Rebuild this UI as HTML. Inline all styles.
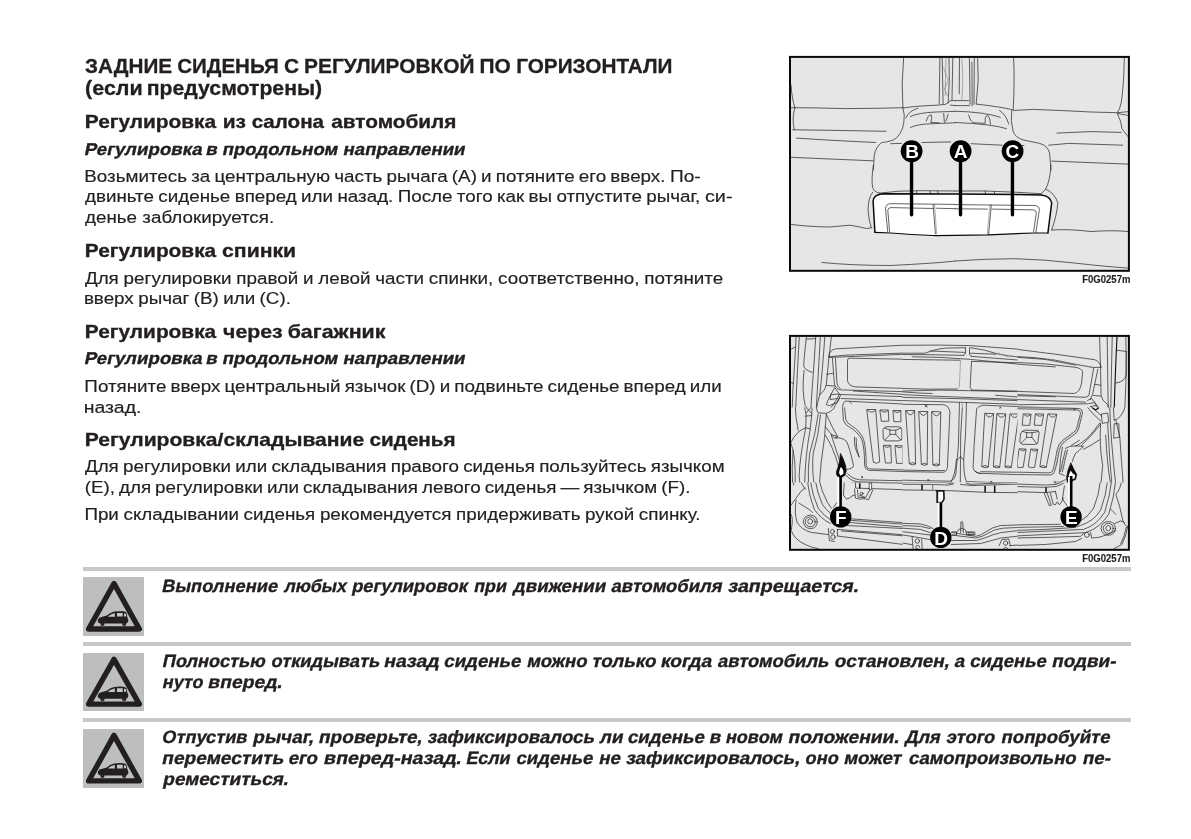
<!DOCTYPE html>
<html lang="ru">
<head>
<meta charset="utf-8">
<title>Задние сиденья с регулировкой по горизонтали</title>
<style>
html,body{margin:0;padding:0;background:#fff}
body{width:1191px;height:839px;overflow:hidden}
#page{position:relative;width:1191px;height:839px;overflow:hidden;background:#fff;font-family:"Liberation Sans",sans-serif;color:#231f20;will-change:transform}
.ln{position:absolute;left:0;margin:0;padding:0;height:0;line-height:0;white-space:pre;font-kerning:none}
.ln span{position:absolute;left:0;top:0;white-space:pre;transform-origin:0 0}
.h1{-webkit-text-stroke:0.3px #231f20}
.h2,.h3,.w{-webkit-text-stroke:0.35px #231f20}
.p{-webkit-text-stroke:0.18px #231f20}
.h1{font:bold 20px/0 "Liberation Sans",sans-serif}
.h2{font:bold 19px/0 "Liberation Sans",sans-serif}
.h3{font:bold 17px/0 "Liberation Sans",sans-serif}
.p{font:17.2px/0 "Liberation Sans",sans-serif}
.w{font:bold 17.8px/0 "Liberation Sans",sans-serif}
.cap{font:bold 10.2px/0 "Liberation Sans",sans-serif;-webkit-text-stroke:0.15px #231f20}
.rule{position:absolute;left:83px;width:1048px;height:3.8px;background:#c7c8ca}
.ib{position:absolute;left:83.1px;width:60.9px;height:58.8px;background:#bcbec0}
svg{position:absolute;left:0;top:0}
</style>
</head>
<body>
<div id="page">
<h1 class="ln h1" style="top:66px"><span style="transform:matrix(1.0351,0,0,1,85.01,0)">ЗАДНИЕ </span><span style="transform:matrix(1.0278,0,0,1,177.15,0)">СИДЕНЬЯ </span><span style="transform:matrix(1.0450,0,0,1,283.90,0)">С </span><span style="transform:matrix(1.0425,0,0,1,304.12,0)">РЕГУЛИРОВКОЙ </span><span style="transform:matrix(1.0450,0,0,1,479.60,0)">ПО </span><span style="transform:matrix(1.0381,0,0,1,516.14,0)">ГОРИЗОНТАЛИ</span></h1>
<h1 class="ln h1" style="top:88px"><span style="transform:matrix(1.0751,0,0,1,85.06,0)">(если </span><span style="transform:matrix(1.0607,0,0,1,146.80,0)">предусмотрены)</span></h1>
<h2 class="ln h2" style="top:122px"><span style="transform:matrix(1.0972,0,0,1,84.74,0)">Регулировка </span><span style="transform:matrix(1.1020,0,0,1,222.72,0)">из </span><span style="transform:matrix(1.0827,0,0,1,251.65,0)">салона </span><span style="transform:matrix(1.0945,0,0,1,331.24,0)">автомобиля</span></h2>
<h3 class="ln h3" style="top:150px"><span style="transform:matrix(1.0992,0,-0.2126,1,84.85,0)">Регулировка </span><span style="transform:matrix(1.0950,0,-0.2126,1,206.33,0)">в </span><span style="transform:matrix(1.0926,0,-0.2126,1,222.80,0)">продольном </span><span style="transform:matrix(1.0965,0,-0.2126,1,343.65,0)">направлении</span></h3>
<p class="ln p" style="top:176px"><span style="transform:matrix(1.0940,0,0,1,84.27,0);word-spacing:-0.93px">Возьмитесь за центральную часть рычага (A) и потяните его вверх. </span><span style="transform:matrix(1.1107,0,0,1,670.02,0)">По-</span></p>
<p class="ln p" style="top:196px"><span style="transform:matrix(1.0940,0,0,1,84.95,0);word-spacing:-0.80px">двиньте сиденье вперед или назад. После того как вы отпустите рычаг, </span><span style="transform:matrix(1.1516,0,0,1,704.96,0)">си-</span></p>
<p class="ln p" style="top:217px"><span style="transform:matrix(1.0940,0,0,1,84.95,0);word-spacing:0.07px">денье заблокируется.</span></p>
<h2 class="ln h2" style="top:251px"><span style="transform:matrix(1.0968,0,0,1,84.87,0)">Регулировка </span><span style="transform:matrix(1.1152,0,0,1,222.06,0)">спинки</span></h2>
<p class="ln p" style="top:278px"><span style="transform:matrix(1.0940,0,0,1,84.91,0);word-spacing:-0.37px">Для регулировки правой и левой части спинки, соответственно, потяните</span></p>
<p class="ln p" style="top:298px"><span style="transform:matrix(1.0940,0,0,1,83.88,0);word-spacing:-0.73px">вверх рычаг (B) или (C).</span></p>
<h2 class="ln h2" style="top:332px"><span style="transform:matrix(1.0968,0,0,1,84.87,0)">Регулировка </span><span style="transform:matrix(1.1185,0,0,1,223.07,0)">через </span><span style="transform:matrix(1.1233,0,0,1,287.69,0)">багажник</span></h2>
<h3 class="ln h3" style="top:359px"><span style="transform:matrix(1.0992,0,-0.2126,1,84.85,0)">Регулировка </span><span style="transform:matrix(1.0950,0,-0.2126,1,206.33,0)">в </span><span style="transform:matrix(1.0926,0,-0.2126,1,222.80,0)">продольном </span><span style="transform:matrix(1.0965,0,-0.2126,1,343.65,0)">направлении</span></h3>
<p class="ln p" style="top:386px"><span style="transform:matrix(1.0940,0,0,1,84.37,0);word-spacing:-1.06px">Потяните вверх центральный язычок (D) и подвиньте сиденье вперед или</span></p>
<p class="ln p" style="top:407px"><span style="transform:matrix(1.1288,0,0,1,83.69,0)">назад.</span></p>
<h2 class="ln h2" style="top:440px"><span style="transform:matrix(1.1090,0,0,1,84.80,0)">Регулировка/складывание </span><span style="transform:matrix(1.0871,0,0,1,369.59,0)">сиденья</span></h2>
<p class="ln p" style="top:466px"><span style="transform:matrix(1.0940,0,0,1,84.91,0);word-spacing:-0.89px">Для регулировки или складывания правого сиденья пользуйтесь язычком</span></p>
<p class="ln p" style="top:487px"><span style="transform:matrix(1.0940,0,0,1,84.65,0);word-spacing:-1.10px">(E), для регулировки или складывания левого сиденья — язычком (F).</span></p>
<p class="ln p" style="top:514px"><span style="transform:matrix(1.0940,0,0,1,84.38,0);word-spacing:-0.52px">При складывании сиденья рекомендуется придерживать рукой спинку.</span></p>
<p class="ln w" style="top:586px"><span style="transform:matrix(1.0273,0,-0.2126,1,162.58,0)">Выполнение </span><span style="transform:matrix(1.0028,0,-0.2126,1,284.68,0)">любых </span><span style="transform:matrix(1.0312,0,-0.2126,1,352.44,0)">регулировок </span><span style="transform:matrix(1.0028,0,-0.2126,1,474.51,0)">при </span><span style="transform:matrix(1.0495,0,-0.2126,1,514.12,0)">движении </span><span style="transform:matrix(1.0365,0,-0.2126,1,611.78,0)">автомобиля </span><span style="transform:matrix(1.1037,0,-0.2126,1,728.70,0)">запрещается.</span></p>
<p class="ln w" style="top:661px"><span style="transform:matrix(1.0227,0,-0.2126,1,163.10,0)">Полностью </span><span style="transform:matrix(1.0291,0,-0.2126,1,271.80,0)">откидывать </span><span style="transform:matrix(1.0937,0,-0.2126,1,384.54,0)">назад </span><span style="transform:matrix(1.0486,0,-0.2126,1,444.56,0)">сиденье </span><span style="transform:matrix(1.0449,0,-0.2126,1,527.47,0)">можно </span><span style="transform:matrix(1.0611,0,-0.2126,1,592.41,0)">только </span><span style="transform:matrix(1.0788,0,-0.2126,1,661.29,0)">когда </span><span style="transform:matrix(1.0351,0,-0.2126,1,718.32,0)">автомобиль </span><span style="transform:matrix(1.0646,0,-0.2126,1,835.14,0)">остановлен, </span><span style="transform:matrix(1.0500,0,-0.2126,1,955.05,0)">а </span><span style="transform:matrix(1.0397,0,-0.2126,1,970.60,0)">сиденье </span><span style="transform:matrix(1.0624,0,-0.2126,1,1052.56,0)">подви-</span></p>
<p class="ln w" style="top:682px"><span style="transform:matrix(1.0102,0,-0.2126,1,163.07,0)">нуто </span><span style="transform:matrix(1.0874,0,-0.2126,1,208.65,0)">вперед.</span></p>
<p class="ln w" style="top:737px"><span style="transform:matrix(1.0239,0,-0.2126,1,162.62,0)">Отпустив </span><span style="transform:matrix(1.0675,0,-0.2126,1,253.58,0)">рычаг, </span><span style="transform:matrix(1.0723,0,-0.2126,1,319.37,0)">проверьте, </span><span style="transform:matrix(1.0465,0,-0.2126,1,428.40,0)">зафиксировалось </span><span style="transform:matrix(1.0500,0,-0.2126,1,600.38,0)">ли </span><span style="transform:matrix(1.0453,0,-0.2126,1,628.16,0)">сиденье </span><span style="transform:matrix(1.0500,0,-0.2126,1,710.11,0)">в </span><span style="transform:matrix(1.0159,0,-0.2126,1,726.16,0)">новом </span><span style="transform:matrix(1.0841,0,-0.2126,1,788.82,0)">положении. </span><span style="transform:matrix(1.0283,0,-0.2126,1,905.70,0)">Для </span><span style="transform:matrix(1.0356,0,-0.2126,1,946.96,0)">этого </span><span style="transform:matrix(1.0453,0,-0.2126,1,1001.83,0)">попробуйте</span></p>
<p class="ln w" style="top:758px"><span style="transform:matrix(1.0766,0,-0.2126,1,162.64,0)">переместить </span><span style="transform:matrix(1.0500,0,-0.2126,1,288.94,0)">его </span><span style="transform:matrix(1.1031,0,-0.2126,1,324.35,0)">вперед-назад. </span><span style="transform:matrix(1.0028,0,-0.2126,1,466.66,0)">Если </span><span style="transform:matrix(1.0436,0,-0.2126,1,516.78,0)">сиденье </span><span style="transform:matrix(1.0500,0,-0.2126,1,599.45,0)">не </span><span style="transform:matrix(1.0588,0,-0.2126,1,626.77,0)">зафиксировалось, </span><span style="transform:matrix(1.0203,0,-0.2126,1,805.88,0)">оно </span><span style="transform:matrix(1.0608,0,-0.2126,1,844.55,0)">может </span><span style="transform:matrix(1.0422,0,-0.2126,1,909.19,0)">самопроизвольно </span><span style="transform:matrix(1.0500,0,-0.2126,1,1083.27,0)">пе-</span></p>
<p class="ln w" style="top:779px"><span style="transform:matrix(1.0687,0,-0.2126,1,163.59,0)">реместиться.</span></p>
<div class="ln cap" style="top:280px"><span style="transform:matrix(0.9356,0,0,1,1082.21,0)">F0G0257m</span></div>
<div class="ln cap" style="top:559px"><span style="transform:matrix(0.9356,0,0,1,1082.21,0)">F0G0257m</span></div>
<div class="rule" style="top:567.1px"></div>
<div class="rule" style="top:642.3px"></div>
<div class="rule" style="top:718.0px"></div>
<div class="ib" style="top:577.0px;height:58.8px"></div>
<div class="ib" style="top:653.0px;height:57.8px"></div>
<div class="ib" style="top:728.9px;height:58.9px"></div>
<svg width="1191" height="839" viewBox="0 0 1191 839" role="img" aria-label="Рычаг регулировки заднего сиденья из салона">
<rect x="790" y="56.9" width="338.9" height="213.9" fill="#e5e6e7" stroke="#0c0808" stroke-width="2"/>
<g fill="none" stroke="#231f20" stroke-width="0.7" stroke-linecap="round" stroke-linejoin="round">
<path d="M791.0,84.8 Q792.0,99.9 795.0,107.9 M791.0,107.7 L815.2,107.9 L845.5,108.6 L875.7,108.3 L902.9,107.7 M794.7,108.3 Q791.6,118.8 794.4,129.8 M792.6,129.8 L830.3,130.3 L886.0,131.3 M796.3,138.1 Q830.3,140.4 875.7,142.5 M903.6,58.3 Q901.1,83.2 902.9,107.9 M902.9,107.9 Q905.3,115.0 903.8,122.5 Q902.1,134.6 893.8,139.9 Q887.8,142.2 881.7,142.5 Q875.7,146.7 874.2,155.8 L873.4,170.0 M791.0,157.3 Q830.3,159.1 873.4,160.8 M890.8,143.7 L901.4,143.4 M921.9,142.5 L950.6,141.9 M903.6,107.9 Q913.5,106.2 936.1,105.2 L945.2,104.4 Q949.0,102.6 950.5,100.6 L955.0,100.6 M950.5,105.2 L955.0,105.5 M910.4,116.5 Q918.0,112.7 936.1,112.0 L955.0,111.4 M910.4,127.4 Q918.0,124.1 930.1,123.8 L955.0,122.8 M905.9,118.0 Q908.9,110.5 918.0,108.2 M926.3,121.0 Q928.6,113.5 931.3,115.0 Q932.4,118.0 930.8,122.5 L939.2,122.8 M943.7,113.5 L944.4,122.5 M948.2,114.2 L946.0,121.0 M939.9,58.3 L939.2,103.7 M942.2,58.3 L943.1,103.7 M949.0,58.3 Q950.0,80.2 948.2,102.9 M952.8,58.3 L952.0,99.9 M959.5,58.3 L959.2,93.8 M969.4,58.3 L970.1,104.4 M971.9,62.1 L972.2,105.9 M974.3,58.3 L974.0,104.4 M977.7,58.3 Q979.5,80.2 976.2,103.7 M955.0,100.6 L968.6,100.6 M955.0,105.6 L969.4,105.6 M976.2,104.1 Q1000.3,106.7 1012.4,109.7 M1013.6,58.3 Q1014.8,80.2 1013.2,109.7 M1013.2,110.5 L1033.6,109.4 L1060.8,110.5 L1091.0,112.0 L1117.5,112.7 L1127.7,111.7 M1124.3,58.3 Q1123.7,87.8 1121.2,102.9 Q1119.7,109.7 1117.5,112.3 M1117.5,113.5 L1127.7,115.3 M1117.5,113.8 Q1121.2,121.0 1122.0,128.6 L1127.7,136.4 M1011.7,110.5 Q1010.2,121.0 1013.2,131.6 Q1015.5,137.7 1023.0,139.9 L1039.6,143.4 Q1047.2,145.2 1049.5,152.8 L1051.0,170.0 M1057.0,133.1 L1091.0,131.6 L1121.2,132.4 M1048.7,145.2 L1068.4,143.4 L1122.8,145.2 M1051.7,161.1 L1127.7,164.1 M955.0,111.2 Q985.2,112.0 1000.3,117.3 M955.0,122.5 Q992.8,124.1 1006.4,128.6 M999.6,110.5 Q1006.4,115.0 1008.7,124.1 M985.2,122.5 Q984.5,116.5 987.5,115.0 Q990.5,118.0 990.5,124.1 M968.6,115.0 Q970.1,121.0 973.1,122.8 L985.2,123.3 M970.9,143.7 L1002.2,145.2 M1022.4,145.5 L1023.9,145.5 M873.4,165.0 Q871.1,180.1 872.7,187.7 Q874.2,192.2 879.5,193.1 M879.5,193.1 Q898.4,190.4 921.0,190.7 L955.0,191.0 M881.7,195.5 L955.0,195.8 M916.5,191.0 L916.8,193.4 M930.1,191.0 L930.4,193.4 M937.6,191.0 L937.9,193.4 M872.7,192.2 Q868.1,197.5 868.1,210.3 Q868.9,220.9 871.1,227.3 M791.0,224.4 Q807.7,226.7 830.3,227.0 Q845.5,225.5 850.0,225.2 Q860.6,227.0 866.6,228.5 L871.9,227.7 M822.0,262.5 Q853.0,265.5 890.8,265.5 Q936.1,263.2 955.0,261.1 M955.0,191.0 L985.2,191.0 L1015.5,192.2 L1041.1,193.7 M955.0,195.8 L1015.5,196.3 L1039.6,197.0 M985.2,191.1 L985.5,193.7 M994.3,191.4 L994.6,193.9 M1051.0,165.0 Q1050.2,180.1 1045.7,189.2 L1041.1,193.7 M1045.7,189.2 Q1054.7,193.0 1057.8,202.8 Q1057.0,214.9 1051.7,230.0 M1051.7,230.0 Q1068.4,228.8 1091.0,231.5 Q1113.7,230.0 1127.7,231.5 M955.0,261.0 Q985.2,258.7 1015.5,258.7 Q1045.7,259.5 1075.9,263.2 Q1106.1,266.6 1127.7,268.1"/>
<path stroke="#8a8a8a" d="M946.0,58.3 L945.2,95.3 M943.7,68.1 L948.2,80.2 L944.4,89.3 L949.0,98.4 M961.8,58.3 Q963.8,80.2 961.8,99.9"/>
<path fill="#fff" stroke="none" d="M874.9,232.3 L873.1,201.3 Q873.4,194.5 883.2,193.7 L955.0,194.0 L955.0,194.0 L1015.5,194.6 L1041.1,194.9 Q1050.5,196.0 1051.7,202.8 L1047.9,233.0 L1047.9,233.0 L1033.6,233.0 L988.2,234.8 L955.0,235.3 L955.0,235.3 L936.1,235.6 Q921.0,235.3 890.8,233.0 L874.9,232.3 Z"/>
<path stroke="#8a8a8a" d="M934.6,204.6 L936.6,233.8 M989.8,205.1 L987.3,234.5"/>
<path d="M887.8,232.3 L885.5,208.8 Q885.5,204.0 890.8,203.7 L955.0,204.4 M955.0,204.6 L1035.1,205.5 Q1039.6,206.1 1039.3,210.3 L1035.9,232.3 M889.6,231.5 L887.8,210.3 Q887.8,207.8 890.8,207.6 L933.1,208.5 M936.1,208.2 L955.0,208.7 M955.0,208.8 L987.5,209.1 M992.0,209.1 L1033.6,209.9 Q1036.6,210.3 1036.3,213.4 L1033.6,231.5 M933.1,204.6 L935.4,233.8 M991.3,205.1 L988.6,234.5"/>
<path stroke="#0c0808" stroke-width="1.5" d="M874.9,232.3 L873.1,201.3 Q873.4,194.5 883.2,193.7 L955.0,194.0 L955.0,194.0 L1015.5,194.6 L1041.1,194.9 Q1050.5,196.0 1051.7,202.8 L1047.9,233.0"/>
<path stroke="#0c0808" stroke-width="1.2" d="M1047.9,233.0 L1033.6,233.0 L988.2,234.8 L955.0,235.3 L955.0,235.3 L936.1,235.6 Q921.0,235.3 890.8,233.0 L874.9,232.3"/>
</g>
<g stroke="#000" stroke-width="3.4" stroke-linecap="round"><path d="M911.55,155V214.8M960.5,155V214.8M1012.45,155V214.8"/></g>
<g fill="#000"><circle cx="911.6" cy="151.2" r="10.9"/><circle cx="960.6" cy="151.2" r="10.9"/><circle cx="1012.6" cy="151.2" r="10.9"/></g>
<g fill="#fff" font-family="Liberation Sans, sans-serif" font-weight="bold" font-size="19" text-anchor="middle"><text x="912" y="158">B</text><text x="960.6" y="157.9">A</text><text x="1012.3" y="158">C</text></g>
</svg>
<svg width="1191" height="839" viewBox="0 0 1191 839" role="img" aria-label="Язычки регулировки сидений со стороны багажника">
<defs><clipPath id="t11"><rect x="789" y="334" width="113.5" height="73.5"/></clipPath><clipPath id="t12"><rect x="902.5" y="334" width="115.0" height="73.5"/></clipPath><clipPath id="t13"><rect x="1017.5" y="334" width="113.5" height="73.5"/></clipPath><clipPath id="t21"><rect x="789" y="407.5" width="113.5" height="75.0"/></clipPath><clipPath id="t22"><rect x="902.5" y="407.5" width="115.0" height="75.0"/></clipPath><clipPath id="t23"><rect x="1017.5" y="407.5" width="113.5" height="75.0"/></clipPath><clipPath id="t31"><rect x="789" y="482.5" width="113.5" height="69.5"/></clipPath><clipPath id="t32"><rect x="902.5" y="482.5" width="115.0" height="69.5"/></clipPath><clipPath id="t33"><rect x="1017.5" y="482.5" width="113.5" height="69.5"/></clipPath></defs>
<rect x="790" y="335.9" width="338.9" height="213.9" fill="#e5e6e7"/>
<g fill="none" stroke="#231f20" stroke-width="0.7" stroke-linecap="round" stroke-linejoin="round">
<g clip-path="url(#t11)">
<path d="M796.1,337.1 Q794.9,360.2 792.9,390.5 L792.1,410.0 M799.3,337.1 Q797.9,360.2 795.6,410.0 M791.0,349.1 L795.1,347.1 M791.0,382.4 L793.3,383.4 M806.4,337.1 Q804.3,355.2 803.7,365.3 Q803.9,369.8 812.2,372.3 M806.7,339.1 L815.2,338.6 M815.7,337.1 Q814.4,360.2 812.0,390.5 L810.8,410.0 M820.3,337.1 Q818.5,370.3 816.2,410.0 M824.8,337.1 Q822.5,370.3 819.8,394.5 M831.3,337.1 Q828.5,360.2 826.3,384.4 Q825.3,390.5 819.8,394.5 Q817.4,402.5 816.4,410.0 M804.1,370.3 Q801.6,390.5 805.2,405.6 L809.2,410.0 M828.8,356.0 Q829.3,350.2 835.4,348.9 L905.0,345.1 M828.8,356.8 L845.5,355.2 L905.0,353.0 M828.8,357.4 L855.5,356.4 L905.0,354.2 M905.0,359.2 L849.5,358.2 Q847.3,358.4 847.5,361.2 L847.5,380.4 Q848.0,385.9 855.5,386.9 L905.0,388.4 M832.4,358.2 L834.4,383.4 Q835.4,389.4 841.4,389.9 L905.0,391.7 M835.4,358.2 L836.9,382.4 Q837.4,386.9 840.2,388.6 M826.8,374.3 L832.9,373.3 M826.3,385.4 L834.4,386.0 M840.4,394.5 L905.0,396.7 M853.5,391.0 L905.0,394.5 M841.4,398.5 L905.0,400.7 M842.9,410.0 Q841.9,402.5 845.5,401.1 L905.0,404.1 M834.4,387.9 L828.3,399.5 L826.3,404.6 L829.3,405.6 L837.4,402.5 L840.4,395.5 L837.4,391.5 Z M831.3,394.5 L839.4,394.0 L837.4,398.5 L830.3,399.5 Z M829.3,410.0 L837.4,398.5 M832.4,410.0 L839.9,397.5 M849.5,401.7 L851.5,403.6"/>
</g>
<g clip-path="url(#t12)">
<path d="M900.0,345.3 L940.3,345.1 L970.5,345.6 L990.7,347.1 L1020.0,349.3 M900.0,353.2 L925.2,353.2 Q933.2,349.6 945.3,348.1 L965.5,347.7 M970.5,347.7 Q985.6,349.6 995.7,353.4 Q1005.8,356.0 1020.0,357.2 M965.5,347.9 L965.5,353.0 Q965.3,354.7 963.5,355.2 M969.5,347.9 L969.5,354.2 Q969.7,355.7 971.7,356.4 M900.0,354.5 L930.2,354.7 L963.5,355.4 M930.2,351.0 L964.5,352.4 M970.5,353.2 L995.7,354.2 M912.1,356.8 L940.3,357.4 L970.5,359.4 L1020.0,364.3 M971.7,356.4 L1020.0,360.2 M900.0,359.4 L959.6,360.2 M971.7,361.4 L1020.0,362.8 M971.5,361.4 L970.1,387.4 L971.7,390.1 M900.0,388.4 L930.2,389.2 L957.0,389.0 M971.7,390.1 L1020.0,391.1 M900.0,391.1 L940.3,390.1 L970.5,390.7 L1020.0,391.7 M900.0,391.7 L920.2,393.1 L932.2,393.5 M900.0,394.5 L930.2,396.0 L1020.0,399.5 M995.7,395.3 L1020.0,397.1 M900.0,397.3 L960.5,398.7 L1020.0,400.7 M900.0,400.5 L960.5,402.3 L1020.0,404.4 M900.0,404.3 L943.3,404.7 Q948.9,406.1 949.9,410.0 M976.6,410.0 Q977.8,405.8 982.6,405.2 L1020.0,406.6 M959.4,402.5 L959.4,410.0 M966.5,402.5 L966.1,410.0 M924.7,405.1 L927.2,406.8 M927.2,405.1 L925.2,406.8 M999.7,407.1 L1000.8,408.1 M1000.8,407.1 L999.7,408.1"/>
<path stroke="#8a8a8a" d="M928.2,352.4 L930.2,350.7 M930.7,352.0 L932.7,350.2 M933.2,351.2 L935.3,349.6 M936.3,350.5 L938.1,349.1 M996.7,354.2 L999.2,353.0 M999.7,355.2 L1002.3,354.0 M1002.8,356.0 L1005.3,354.8 M1006.3,356.7 L1008.8,355.5 M1009.8,357.2 L1012.0,356.0 M960.5,360.4 L959.4,386.4 L957.0,389.0 M962.1,402.5 L962.5,410.0"/>
</g>
<g clip-path="url(#t13)">
<path d="M1015.0,349.1 L1055.3,354.2 L1094.6,359.7 Q1099.6,361.2 1101.2,366.9 M1015.0,356.4 L1035.2,357.7 L1055.3,360.2 L1075.5,364.3 L1093.6,367.5 L1101.2,367.3 M1015.0,357.2 L1045.2,359.4 L1075.5,365.1 M1015.0,362.4 L1045.2,363.9 L1075.5,367.3 Q1082.0,368.3 1082.7,372.3 L1081.5,383.4 Q1080.0,392.0 1074.4,393.5 L1015.0,391.3 M1015.0,364.0 L1055.3,366.9 M1093.6,368.3 L1089.1,394.5 Q1088.4,397.0 1085.5,397.3 L1015.0,394.5 M1097.8,369.3 L1092.6,394.5 L1090.1,399.5 M1015.0,395.7 L1055.3,396.7 M1015.0,399.5 L1085.5,402.1 M1015.0,404.8 L1087.5,403.8 M1015.0,406.8 L1075.5,408.2 M1099.6,337.1 L1100.6,370.3 L1101.1,395.5 Q1101.6,400.5 1107.7,404.6 L1109.2,410.0 M1107.2,337.1 L1108.2,410.0 M1112.2,337.1 L1110.7,410.0 M1125.8,337.1 L1126.4,370.3 L1124.8,410.0 M1116.8,350.2 L1125.8,351.4 M1126.4,351.4 L1125.8,375.3 Q1125.3,381.4 1116.3,383.0 M1095.1,384.4 L1100.6,385.2 M1093.6,395.5 L1100.6,396.1 M1087.5,400.5 L1091.6,398.5 L1100.6,410.0 M1088.6,403.6 L1094.6,402.5 L1098.6,410.0 M1090.1,406.6 L1095.6,405.6"/>
<path stroke="#8a8a8a" d="M1045.2,358.4 L1047.7,359.8 M1049.3,359.0 L1051.8,360.4 M1053.3,359.7 L1055.8,361.1 M1057.3,360.4 L1059.8,361.8 M1061.3,361.2 L1063.9,362.6 M1065.4,362.0 L1067.9,363.5 M1069.9,362.8 L1072.4,364.3 M1074.4,363.8 L1077.0,365.2 M1079.0,364.6 L1081.5,366.0 M1083.5,365.4 L1086.0,366.8 M1088.0,366.1 L1090.6,367.5"/>
<path stroke="#0c0808" stroke-width="1.1" d="M1117.0,337.1 Q1115.3,370.3 1114.2,410.0"/>
</g>
<g clip-path="url(#t21)">
<path d="M795.1,405.0 Q795.6,417.1 798.1,430.2 M791.0,442.3 Q796.1,431.2 805.7,427.8 M804.1,405.0 L806.2,415.1 L805.7,427.8 L810.2,428.8 L811.7,415.1 L812.2,405.0 M805.2,416.1 L811.7,415.6 M805.7,407.0 L811.2,413.1 M811.2,407.0 L806.2,413.1 M816.2,405.0 Q816.4,411.0 818.2,412.9 L826.3,413.3 Q833.4,411.0 836.4,405.0 M805.7,428.2 Q800.1,455.4 799.1,475.5 L800.1,485.0 M810.2,429.2 Q805.2,455.4 804.6,485.0 M818.2,414.1 Q815.2,435.2 809.7,453.4 Q807.7,467.5 808.4,485.0 M820.5,414.9 Q818.8,435.2 813.2,453.4 Q811.7,467.5 814.2,485.0 M826.3,414.1 Q825.3,437.2 821.3,461.4 L819.3,485.0 M793.1,450.3 Q791.5,467.5 792.6,485.0 M791.0,443.3 Q796.1,455.4 795.1,485.0 M826.3,414.1 L832.4,427.2 L837.4,436.2 M825.3,426.7 L831.3,434.2 M825.3,435.2 Q832.4,445.3 838.4,465.5 M831.3,435.2 L839.9,461.4 M831.3,434.8 L834.4,437.8 L837.6,436.8 Z M835.4,438.2 Q841.4,436.7 846.5,441.3 Q849.5,447.3 853.5,465.5 Q853.5,469.0 845.5,469.5 M842.4,405.0 L843.4,420.1 Q844.4,424.6 849.5,427.2 Q858.6,432.2 862.1,440.3 Q864.6,448.3 864.6,465.5 Q865.1,469.5 868.6,470.3 L905.0,471.6 M844.4,405.0 L845.7,419.1 Q846.5,423.1 851.5,425.7 Q860.1,430.7 863.6,439.3 Q866.1,448.3 866.2,465.5 Q866.4,468.3 869.6,468.9 L905.0,470.0 M854.5,437.2 Q853.5,447.3 859.1,456.9 M856.1,438.2 Q855.5,447.3 859.1,456.9 M867.1,409.5 L875.7,409.5 L879.7,461.9 Q876.7,464.4 873.7,462.4 Z M867.4,410.0 Q871.6,414.6 875.5,410.0 M880.2,410.0 L888.3,410.0 L888.8,421.1 L881.7,421.3 Z M880.7,410.5 Q884.2,414.1 888.0,410.5 M893.3,410.5 L900.9,410.5 L900.9,421.7 L894.3,421.7 Z M893.8,411.0 Q897.0,414.3 900.5,411.0 M883.2,429.2 L885.8,426.8 L899.9,426.8 L901.9,429.2 L901.9,439.3 L898.9,440.9 L885.8,440.9 L883.7,439.3 Z M890.3,430.2 L895.8,430.2 L895.8,434.4 L890.3,434.4 Z M884.2,428.0 L890.3,430.2 M900.9,428.0 L895.8,430.2 M884.7,440.1 L890.3,434.4 M900.9,440.1 L895.8,434.4 M883.7,445.3 L890.8,445.3 L891.4,463.0 L885.8,463.0 Z M884.2,445.8 Q887.3,449.3 890.4,445.8 M895.3,445.5 L902.9,445.9 L902.9,463.4 L897.0,463.4 Z M895.8,446.1 Q899.1,449.3 902.5,446.3 M845.5,474.5 Q849.5,480.6 857.5,481.8 L905.0,483.2 M847.5,473.5 Q851.5,478.6 859.6,479.8 L905.0,480.8 M861.4,476.7 L862.8,477.7 M862.8,476.7 L861.4,477.7 M839.9,470.5 Q841.6,469.5 842.6,471.7 Q842.0,473.9 840.2,473.5 Z"/>
<path fill="#0c0808" stroke="#0c0808" stroke-width="0.8" d="M840.6,453.8 L843.0,458.4 L845.5,465.5 L846.2,471.0 L844.6,475.5 L841.9,477.1 L839.4,477.1 L837.0,475.7 L836.4,472.0 L837.8,468.0 L839.6,461.4 Z"/>
<path fill="#fff" stroke="none" d="M841.0,466.7 L843.2,470.0 L843.4,473.3 L842.0,475.1 L840.2,475.5 L839.0,472.7 L839.9,469.0 Z"/>
<path stroke="#0c0808" stroke-width="1.1" d="M859.8,483.2 L860.0,485.0 M870.2,483.2 L870.2,485.0"/>
</g>
<g clip-path="url(#t22)">
<path d="M906.0,410.5 L914.6,410.5 L915.6,463.9 Q912.6,466.0 909.6,463.9 Z M906.4,411.0 Q910.3,419.1 914.3,411.0 M909.6,463.6 Q912.6,461.4 915.6,463.6 M919.1,411.5 L927.7,411.5 L927.2,464.4 Q924.4,466.5 921.7,464.4 Z M919.5,412.1 Q923.4,419.1 927.4,412.1 M921.7,464.2 Q924.4,462.0 927.2,464.2 M932.0,411.5 L940.8,411.9 L939.3,465.1 Q936.3,466.9 933.2,465.1 Z M932.4,412.3 Q936.3,419.6 940.5,412.5 M933.2,464.8 Q936.3,462.6 939.3,464.8 M943.3,405.0 Q949.4,406.0 949.9,412.1 L948.4,445.3 L947.4,467.5 Q946.5,472.0 943.3,472.3 L900.0,471.5 M900.0,470.0 L930.2,470.7 L944.3,470.5 M900.0,480.1 L950.4,481.2 Q954.9,479.6 955.9,473.5 L958.4,445.3 L959.4,405.0 M900.0,482.8 L952.4,483.4 M962.5,405.0 L960.7,435.2 L960.5,455.4 L960.3,485.0 M966.5,405.0 L965.5,435.2 L963.7,459.4 Q963.5,475.5 966.5,481.6 L1020.0,483.4 M957.4,459.9 L960.5,456.4 L963.5,459.9 M956.4,459.4 Q955.4,475.5 950.4,483.1 M1020.0,406.2 L980.6,405.5 Q977.1,405.8 976.6,409.0 L974.1,445.3 L973.1,467.5 Q973.6,472.0 979.6,473.3 L1020.0,474.7 M974.6,471.0 Q976.6,473.0 980.6,473.7 M985.1,413.3 L993.7,413.6 L988.2,467.1 Q985.1,468.5 982.1,466.7 Z M985.6,413.9 Q989.2,420.6 993.3,414.1 M982.1,466.5 Q985.1,463.9 988.2,466.7 M997.2,413.6 L1005.8,413.9 L999.7,467.3 Q996.7,468.5 993.7,466.9 Z M997.7,414.3 Q1001.3,420.6 1005.4,414.5 M993.7,466.7 Q996.7,464.2 999.7,467.0 M1010.3,413.9 L1018.9,414.1 L1011.3,467.3 Q1008.3,468.5 1005.3,467.0 Z M1010.8,414.5 Q1014.4,420.9 1018.5,414.7 M1005.3,466.7 Q1008.3,464.2 1011.3,467.0 M1020.0,448.3 L1017.4,467.0 L1020.0,467.5 M925.4,405.5 L927.2,406.8 M927.2,405.5 L925.4,406.8 M999.7,407.0 L1001.0,408.2 M1001.0,407.0 L999.7,408.2 M927.7,479.6 L929.0,480.6 M929.0,479.6 L927.7,480.6 M990.7,481.1 L991.9,482.3 M991.9,481.1 L990.7,482.3 M980.6,471.7 L1020.0,472.3"/>
</g>
<g clip-path="url(#t23)">
<path d="M1023.6,413.9 L1031.1,414.1 L1029.6,425.4 L1022.6,425.2 Z M1024.1,414.5 Q1027.3,418.1 1030.7,414.7 M1035.7,413.9 L1043.7,414.1 L1041.7,425.4 L1034.6,425.2 Z M1036.2,414.5 Q1039.7,418.1 1043.2,414.7 M1048.2,413.9 L1056.8,414.3 L1046.2,467.3 Q1043.2,468.5 1040.2,466.7 Z M1048.8,414.5 Q1052.5,420.1 1056.3,414.9 M1040.2,466.5 Q1043.2,464.2 1046.2,466.9 M1021.0,432.7 L1024.1,430.2 L1037.7,430.4 L1039.2,432.7 L1037.7,443.3 L1034.6,444.5 L1022.1,444.3 L1020.0,442.3 Z M1027.1,432.7 L1032.1,432.7 L1031.9,437.4 L1026.9,437.4 Z M1022.3,431.4 L1027.1,432.7 M1038.4,431.6 L1032.1,432.7 M1021.0,443.3 L1026.9,437.4 M1036.7,443.8 L1031.9,437.4 M1019.5,448.8 L1026.1,449.1 L1023.1,467.3 Q1020.0,468.3 1017.0,466.9 Z M1020.0,449.3 Q1022.9,452.6 1025.7,449.5 M1031.1,449.1 L1037.7,449.3 L1034.6,467.3 Q1031.6,468.3 1028.6,466.9 Z M1031.6,449.6 Q1034.4,452.9 1037.3,449.8 M1015.0,407.2 L1079.5,408.6 Q1083.0,409.5 1082.5,413.1 L1078.5,429.2 Q1077.0,432.7 1074.4,434.4 L1064.4,441.8 Q1060.3,445.3 1059.3,450.3 L1056.3,465.5 L1054.5,471.5 Q1053.8,474.7 1050.3,475.0 L1015.0,474.5 M1015.0,408.7 L1078.0,410.0 Q1080.7,410.5 1080.5,413.6 L1076.7,428.4 Q1075.5,431.4 1072.6,433.2 L1062.6,440.5 Q1058.3,444.3 1057.3,449.3 L1054.3,464.9 L1052.9,470.0 Q1052.3,472.7 1049.3,472.9 L1015.0,472.1 M1073.9,409.0 L1075.2,410.0 M1075.2,409.0 L1073.9,410.0 M1062.4,447.3 Q1060.3,457.4 1059.3,473.5 L1064.4,475.5 M1065.4,448.3 Q1069.4,445.8 1075.5,445.8 L1083.5,446.3 Q1079.5,450.3 1075.5,453.4 Q1073.4,457.4 1072.4,461.4 M1065.4,450.3 Q1062.4,461.4 1060.5,471.5 M1067.4,449.8 Q1064.4,461.4 1062.4,472.0 M1071.4,445.3 L1079.5,440.3 M1075.5,446.3 Q1085.5,441.3 1093.6,431.2 L1099.6,423.1 M1081.5,445.3 Q1091.6,436.2 1100.6,424.3 M1083.5,449.3 Q1091.6,445.3 1099.6,439.8 M1070.2,474.5 Q1071.9,473.7 1073.2,475.5 Q1072.4,477.7 1070.6,477.3 Z M1054.3,482.2 Q1060.3,483.6 1065.4,479.8 M1054.1,481.8 L1055.3,482.8 M1055.3,481.8 L1054.1,482.8 M1085.5,405.0 Q1091.6,413.1 1100.6,421.1 M1089.6,405.0 Q1095.6,411.0 1101.9,416.1 M1101.6,414.1 L1107.7,413.1 L1108.7,422.1 L1102.7,423.3 Z M1100.6,423.3 Q1099.1,445.3 1102.7,465.5 L1100.8,485.0 M1107.7,423.1 Q1109.2,455.4 1111.9,485.0 M1109.7,405.0 Q1110.2,435.2 1115.8,485.0 M1113.2,405.0 L1114.2,420.1 M1114.2,420.1 Q1121.8,419.1 1125.8,405.0 M1114.2,424.1 L1113.7,438.2 L1119.3,437.2 L1118.8,424.1 Z M1119.8,437.2 Q1121.8,465.5 1123.3,485.0 M1105.7,435.2 Q1107.2,465.5 1110.7,485.0 M1115.8,420.1 L1119.8,437.2"/>
<path stroke="#8a8a8a" d="M1079.5,416.1 L1081.7,417.1 M1078.7,419.1 L1081.0,420.1 M1078.0,422.1 L1080.3,423.1 M1077.3,425.2 L1079.5,426.4 M1076.3,428.2 L1078.5,429.7 M1074.4,431.0 L1076.3,432.8 M1071.9,432.8 L1073.6,434.6 M1069.4,434.5 L1071.0,436.4 M1066.9,436.2 L1068.6,438.2 M1064.6,438.0 L1066.2,440.1 M1062.2,440.1 L1063.9,442.1 M1060.1,442.5 L1062.2,444.1 M1058.5,445.3 L1060.8,446.5 M1057.5,448.3 L1059.9,449.3 M1056.8,451.5 L1059.1,452.4 M1056.1,454.9 L1058.5,455.6 M1055.5,458.2 L1057.9,458.9 M1054.9,461.4 L1057.3,462.2 M1054.3,464.6 L1056.7,465.5 M1053.5,467.7 L1055.8,468.7 M1065.9,452.4 L1067.4,453.2 M1065.1,455.4 L1066.6,456.2 M1064.4,458.4 L1065.9,459.2 M1063.6,461.4 L1065.2,462.2 M1063.0,464.4 L1064.6,465.3 M1062.4,467.5 L1064.0,468.3"/>
<path fill="#0c0808" stroke="#0c0808" stroke-width="0.8" d="M1071.0,463.2 L1073.6,469.0 L1076.7,474.5 L1075.5,479.4 L1072.2,480.8 L1071.0,485.0 L1067.6,485.0 L1066.6,477.7 L1068.0,470.5 Z"/>
<path fill="#fff" stroke="none" d="M1070.6,470.5 L1072.9,473.5 L1075.3,474.9 L1074.4,478.4 L1071.6,479.6 L1069.9,478.6 L1068.6,475.5 Z"/>
<path stroke="#0c0808" stroke-width="1.1" d="M1088.6,405.0 L1095.6,410.0 L1098.6,408.0 L1096.6,405.0"/>
</g>
<g clip-path="url(#t31)">
<path d="M793.1,480.0 L793.7,485.0 M800.1,480.0 Q802.1,485.0 805.2,489.1 M807.2,480.0 Q808.7,495.1 814.2,509.2 Q820.3,518.3 830.3,523.5 M810.2,480.0 Q812.2,495.1 818.2,508.2 Q824.3,516.3 831.3,520.5 M815.2,480.0 Q817.0,492.1 822.3,504.2 Q826.3,510.2 830.3,513.2 M819.3,480.0 Q821.3,491.1 827.3,502.2 L831.5,508.4 M833.4,507.4 L836.9,502.7 M791.0,505.2 Q796.1,498.1 801.1,491.1 L805.2,488.1 M796.1,500.2 Q794.1,513.2 797.1,522.3 Q801.1,529.4 811.2,532.4 L828.3,534.6 M791.0,514.3 Q793.6,517.3 791.2,530.4 Q794.1,539.4 805.2,544.5 Q811.2,547.5 818.2,548.7 M799.1,503.2 L810.2,510.2 L812.4,512.4 M817.2,521.8 Q817.2,515.3 810.2,515.1 Q803.6,515.8 803.3,521.8 Q804.1,528.4 810.7,528.6 Q817.2,528.2 817.2,521.8 Z M815.2,521.8 Q815.0,517.1 810.2,516.9 Q805.4,517.5 805.2,521.8 Q805.7,526.5 810.4,526.8 Q815.0,526.3 815.2,521.8 Z M812.7,521.3 Q812.4,518.8 810.0,518.8 Q807.7,519.3 807.7,521.5 Q808.0,524.1 810.2,524.1 Q812.6,523.9 812.7,521.3 Z M828.3,528.4 L829.3,540.5 L834.4,541.5 M834.4,531.4 Q834.4,529.4 832.4,529.4 Q830.3,529.6 830.3,531.6 Q830.5,533.6 832.6,533.6 Q834.4,533.4 834.4,531.4 Z M835.2,537.0 Q835.2,534.8 833.0,534.8 Q830.7,535.0 830.7,537.2 Q830.9,539.4 833.2,539.4 Q835.2,539.2 835.2,537.0 Z M837.4,529.4 L837.4,535.6 M850.5,518.8 L905.0,522.8 M850.5,520.3 L905.0,524.3 M849.5,522.5 L905.0,527.2 M846.5,525.5 L905.0,528.6 M837.4,529.4 L905.0,534.9 M841.4,530.9 L905.0,536.0 M837.4,536.0 L905.0,544.7 M847.5,480.0 Q849.5,482.0 853.5,482.2 L905.0,483.2 M855.5,483.0 L855.5,488.1 L905.0,489.7 M854.5,489.1 L855.5,498.1 L859.6,499.1 L864.6,498.7 L868.6,499.7 L872.7,490.1 M857.5,490.1 L858.1,497.1 L865.6,497.7 L869.6,490.1 M863.1,493.6 Q863.1,492.3 861.6,492.3 Q860.1,492.5 860.1,493.8 Q860.4,495.1 861.8,495.1 Q863.1,494.9 863.1,493.6 Z M844.4,480.0 L843.4,495.1 L846.5,499.1 L849.5,498.1 L851.5,496.1 L854.5,495.1 M859.6,495.1 L864.6,497.1"/>
<path fill="#fff" d="M869.6,483.2 L871.6,483.2 L871.6,489.6 L869.6,489.6 Z"/>
<path stroke="#0c0808" stroke-width="1.5" stroke-linecap="butt" d="M859.8,483.2 L859.8,488.6"/>
</g>
<g clip-path="url(#t32)">
<path d="M900.0,481.5 L945.3,482.5 Q950.4,484.0 953.4,483.0 L956.4,480.0 M964.5,480.0 L966.5,483.5 Q970.5,485.0 976.6,484.0 L1020.0,482.2 M900.0,484.2 L933.2,484.5 L948.4,485.0 Q951.4,484.8 953.4,484.0 M960.5,484.5 L972.5,485.6 L1020.0,484.0 M900.0,489.9 L933.2,490.3 L950.4,490.7 L984.6,492.3 L1020.0,492.7 M990.7,481.0 L991.9,482.2 M991.9,481.0 L990.7,482.2 M939.8,496.1 L941.8,496.1 M939.8,496.1 L939.8,500.2 M939.8,498.1 L941.3,498.1 M900.0,523.3 L920.2,523.9 Q928.2,525.3 933.2,528.6 M900.0,525.5 L920.2,526.3 L930.2,528.6 M900.0,528.0 L920.2,529.4 L930.2,532.6 M900.0,531.4 L930.2,535.0 M900.0,534.6 L912.1,536.4 L930.2,539.6 M951.4,532.4 L975.6,536.4 Q980.6,535.6 985.6,531.9 Q992.7,526.9 1000.8,525.5 L1020.0,524.9 M951.4,535.0 L975.6,538.0 Q982.6,536.9 987.7,533.4 Q994.7,528.9 1002.8,528.2 L1020.0,527.4 M951.4,540.5 L976.6,540.5 Q985.6,537.9 992.7,534.9 L1000.8,532.6 L1020.0,530.4 M951.4,544.5 L980.6,543.5 L1000.8,538.0 L1020.0,536.0 M900.0,542.5 L912.1,544.7 M1009.8,545.7 L1020.0,544.7 M961.0,522.3 L961.7,521.5 L962.7,522.3 L963.5,532.4 M961.0,522.3 L960.5,532.4 M956.4,532.6 Q958.4,528.4 962.0,528.2 Q965.5,528.6 967.0,532.6 M952.4,531.9 L956.4,531.9 L956.6,535.0 L952.4,535.0 M966.5,531.9 L974.6,531.9 L975.1,535.0 L967.0,535.0 Z M968.5,532.6 L973.0,532.6 L973.4,534.4 L968.7,534.4 Z M912.1,536.4 L913.1,548.7 M921.7,539.4 L922.2,548.7 M919.5,541.0 Q919.5,538.8 917.3,538.8 Q915.1,539.0 915.1,541.2 Q915.3,543.3 917.5,543.3 Q919.5,543.1 919.5,541.0 Z M919.7,547.3 Q919.7,545.3 917.7,545.3 Q915.7,545.5 915.7,547.5 Q915.9,548.9 917.7,548.9 M999.2,545.7 L1001.8,539.6 L1008.8,539.0 L1010.4,545.7 M1007.8,543.1 Q1007.8,540.9 1005.6,540.9 Q1003.4,541.1 1003.4,543.3 Q1003.6,545.3 1005.8,545.3 Q1007.8,545.1 1007.8,543.1 Z M1007.4,548.7 Q1007.0,547.3 1005.6,547.3 Q1004.2,547.5 1003.8,548.7"/>
<path stroke="#8a8a8a" d="M962.0,523.3 L962.0,531.4"/>
<path stroke="#8a8a8a" stroke-width="1.3" stroke-linecap="butt" d="M932.7,484.8 L932.7,490.3"/>
<path fill="#fff" d="M938.1,491.1 L943.5,491.1 L943.9,499.1 L942.3,502.0 L938.1,502.4 Z"/>
<path stroke="#0c0808" stroke-width="1.3" d="M936.3,490.9 L943.9,490.9 M943.9,490.9 L944.1,499.1 L942.3,502.2"/>
<path stroke="#0c0808" stroke-width="1.5" stroke-linecap="butt" d="M922.0,484.5 L922.0,490.3 M985.1,486.0 L985.1,492.5 M994.7,485.5 L994.7,492.7 M937.1,490.6 L937.1,503.0"/>
</g>
<g clip-path="url(#t33)">
<path d="M1015.0,484.0 L1045.2,485.0 L1055.3,484.5 Q1061.3,483.0 1065.4,480.0 M1015.0,486.5 L1045.2,487.3 L1056.3,486.5 Q1063.4,484.5 1067.4,480.0 M1015.0,491.6 L1044.2,492.6 L1055.3,491.6 M1044.2,493.1 L1049.3,505.8 L1051.3,505.2 L1047.2,493.1 M1050.3,493.1 L1053.3,504.2 L1055.3,504.8 L1057.3,501.8 L1059.3,504.8 L1061.3,502.4 L1063.4,498.1 M1055.3,491.1 L1057.3,499.1 M1064.4,486.0 L1062.4,499.1 L1067.4,506.2 M1054.3,482.0 L1056.3,484.0 M1100.6,480.0 Q1099.1,495.1 1093.6,508.2 Q1088.6,516.3 1081.5,520.5 M1107.7,480.0 Q1106.2,495.1 1100.6,510.2 Q1093.6,521.3 1080.5,525.5 L1075.5,527.0 M1111.7,480.0 Q1110.2,495.1 1104.7,512.2 Q1096.6,525.3 1083.5,529.4 L1015.0,532.6 M1115.8,480.0 Q1114.2,497.1 1108.7,514.3 Q1099.6,528.4 1085.5,532.6 L1015.0,536.0 M1121.8,480.0 Q1120.3,490.1 1115.8,494.1 Q1119.8,505.2 1122.8,520.3 Q1124.8,525.3 1127.8,527.4 M1110.7,509.2 L1115.8,514.3 M1114.7,523.5 L1120.8,520.9 L1124.0,522.3 M1127.8,526.3 Q1125.8,537.4 1121.8,544.5 L1113.7,548.7 M1126.3,527.4 Q1124.6,536.4 1120.8,543.7 M1115.3,528.4 Q1115.3,521.8 1108.2,521.5 Q1101.4,522.1 1101.1,528.4 Q1101.6,534.9 1108.5,535.2 Q1115.3,534.9 1115.3,528.4 Z M1113.2,528.4 Q1113.2,523.5 1108.2,523.3 Q1103.5,523.9 1103.3,528.4 Q1103.7,533.2 1108.5,533.4 Q1113.2,533.0 1113.2,528.4 Z M1110.7,528.2 Q1110.7,525.5 1108.2,525.5 Q1105.9,525.9 1105.7,528.4 Q1106.1,530.8 1108.5,530.8 Q1110.7,530.6 1110.7,528.2 Z M1089.3,534.9 Q1089.3,532.4 1086.7,532.4 Q1084.3,532.6 1084.3,535.1 Q1084.5,537.4 1086.9,537.4 Q1089.3,537.2 1089.3,534.9 Z M1080.5,536.4 L1083.7,533.4 M1090.6,532.4 L1091.6,538.0 L1098.6,537.4 Q1107.7,535.4 1115.8,530.4 M1015.0,524.8 L1060.3,524.3 M1015.0,527.4 L1063.4,526.5 M1015.0,530.4 L1045.2,529.4 L1075.5,527.4 M1015.0,538.0 L1045.2,537.4 L1079.5,536.4 M1015.0,545.5 L1045.2,544.5 L1075.5,541.5 L1081.7,538.4"/>
<path stroke="#0c0808" stroke-width="1.5" stroke-linecap="butt" d="M1046.0,487.3 L1046.0,492.7"/>
</g>
</g>
<rect x="790" y="335.9" width="338.9" height="213.9" fill="none" stroke="#0c0808" stroke-width="2"/>
<g fill="none" stroke-linecap="butt"><path stroke="#fff" stroke-width="2" d="M838.3,477V508M938.7,503V528M1068.9,477V508"/><path stroke="#000" stroke-width="2.6" d="M840.6,476V510M940.9,502.5V530M1071.2,476V510"/></g>
<g fill="#000"><circle cx="840.7" cy="516.9" r="10.7"/><circle cx="940.8" cy="537.4" r="10.7"/><circle cx="1071.1" cy="516.9" r="10.7"/></g>
<g fill="#fff" font-family="Liberation Sans, sans-serif" font-weight="bold" font-size="19" text-anchor="middle"><text x="840.8" y="524">F</text><text x="941.1" y="544.8">D</text><text x="1071.3" y="524">E</text></g>
</svg>
<svg width="1191" height="839" viewBox="0 0 1191 839" role="img" aria-label="Предупреждение">
<g transform="translate(83.1,577.0)"><path d="M30.9,6.5L56.2,52H5.5Z" fill="none" stroke="#231f20" stroke-width="5.4" stroke-linejoin="round"/><path d="M14.6,44.4 Q14.4,42.5 16.3,40.7 Q20.0,39.4 23.7,38.5 Q26.3,35.9 31.1,34.6 Q35.5,33.9 40.3,34.3 Q43.1,34.7 43.8,36.6 L44.1,39.9 Q45.3,42.5 45.3,43.6 Q45.1,45.7 43.3,46.5 L17.0,46.5 Q15.2,45.8 14.6,44.4 Z" fill="#231f20"/><circle cx="19.36" cy="46.99" r="1.99" fill="#231f20"/><circle cx="41.04" cy="47.10" r="1.99" fill="#231f20"/><path d="M24.9,39.7 Q26.3,37.7 31.7,35.9 L31.8,39.7 ZM33.9,35.9 L39.6,35.9 L39.6,39.6 L33.9,39.6 ZM40.9,36.4 L43.1,36.7 L43.1,39.4 L40.9,39.4 Z" fill="#c4c6c8"/><path d="M19.4,46.4 L20.0,47.0 L19.4,47.7 L18.7,47.0 ZM41.0,46.5 L41.7,47.1 L41.0,47.8 L40.4,47.1 Z" fill="#58595b"/></g>
<g transform="translate(83.1,653.0) scale(1,0.983)"><path d="M30.9,6.5L56.2,52H5.5Z" fill="none" stroke="#231f20" stroke-width="5.4" stroke-linejoin="round"/><path d="M14.6,44.4 Q14.4,42.5 16.3,40.7 Q20.0,39.4 23.7,38.5 Q26.3,35.9 31.1,34.6 Q35.5,33.9 40.3,34.3 Q43.1,34.7 43.8,36.6 L44.1,39.9 Q45.3,42.5 45.3,43.6 Q45.1,45.7 43.3,46.5 L17.0,46.5 Q15.2,45.8 14.6,44.4 Z" fill="#231f20"/><circle cx="19.36" cy="46.99" r="1.99" fill="#231f20"/><circle cx="41.04" cy="47.10" r="1.99" fill="#231f20"/><path d="M24.9,39.7 Q26.3,37.7 31.7,35.9 L31.8,39.7 ZM33.9,35.9 L39.6,35.9 L39.6,39.6 L33.9,39.6 ZM40.9,36.4 L43.1,36.7 L43.1,39.4 L40.9,39.4 Z" fill="#c4c6c8"/><path d="M19.4,46.4 L20.0,47.0 L19.4,47.7 L18.7,47.0 ZM41.0,46.5 L41.7,47.1 L41.0,47.8 L40.4,47.1 Z" fill="#58595b"/></g>
<g transform="translate(83.1,728.9)"><path d="M30.9,6.5L56.2,52H5.5Z" fill="none" stroke="#231f20" stroke-width="5.4" stroke-linejoin="round"/><path d="M14.6,44.4 Q14.4,42.5 16.3,40.7 Q20.0,39.4 23.7,38.5 Q26.3,35.9 31.1,34.6 Q35.5,33.9 40.3,34.3 Q43.1,34.7 43.8,36.6 L44.1,39.9 Q45.3,42.5 45.3,43.6 Q45.1,45.7 43.3,46.5 L17.0,46.5 Q15.2,45.8 14.6,44.4 Z" fill="#231f20"/><circle cx="19.36" cy="46.99" r="1.99" fill="#231f20"/><circle cx="41.04" cy="47.10" r="1.99" fill="#231f20"/><path d="M24.9,39.7 Q26.3,37.7 31.7,35.9 L31.8,39.7 ZM33.9,35.9 L39.6,35.9 L39.6,39.6 L33.9,39.6 ZM40.9,36.4 L43.1,36.7 L43.1,39.4 L40.9,39.4 Z" fill="#c4c6c8"/><path d="M19.4,46.4 L20.0,47.0 L19.4,47.7 L18.7,47.0 ZM41.0,46.5 L41.7,47.1 L41.0,47.8 L40.4,47.1 Z" fill="#58595b"/></g>
</svg>
</div>
</body>
</html>
